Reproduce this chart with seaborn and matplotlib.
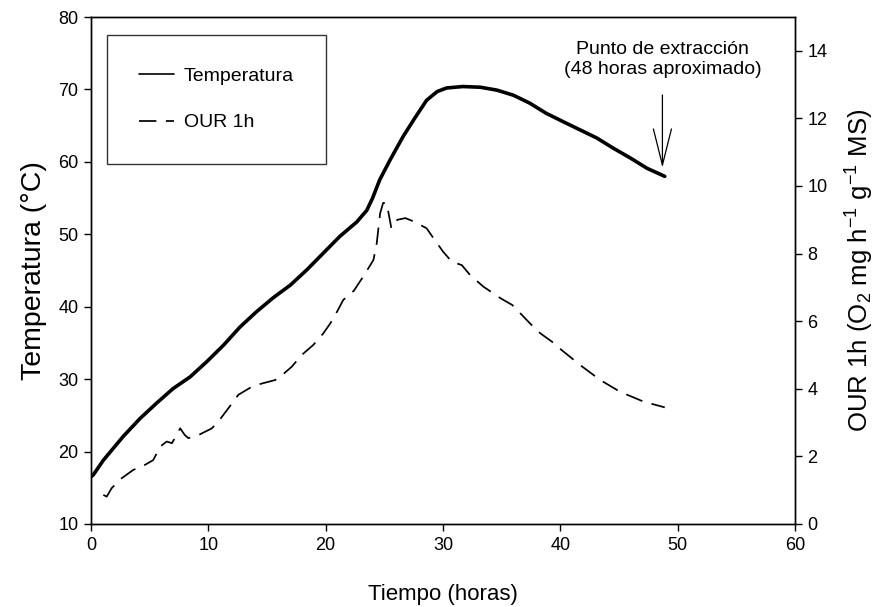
import matplotlib
matplotlib.use("Agg")
import matplotlib.pyplot as plt
import seaborn as sns
import pandas as pd

# ---- data ----
temp_hours = [0, 0.2, 0.5, 1.05, 2.75, 4.2, 5.6, 7.0, 8.44, 9.86, 11.3, 12.7, 14.1, 15.5,
              17.0, 18.4, 19.8, 21.2, 22.65, 23.5, 24.0, 24.6, 25.5, 26.6, 27.5, 28.6,
              29.5, 30.3, 31.7, 33.2, 34.6, 36.0, 37.4, 38.8, 40.3, 41.7, 43.1, 44.5,
              46.0, 47.4, 48.9]
temp_values = [16.5, 16.8, 17.5, 18.8, 22.1, 24.6, 26.7, 28.7, 30.3, 32.4, 34.7, 37.2,
               39.3, 41.2, 43.0, 45.1, 47.4, 49.7, 51.7, 53.3, 55.0, 57.5, 60.3, 63.5,
               65.8, 68.5, 69.7, 70.2, 70.4, 70.3, 69.9, 69.2, 68.1, 66.7, 65.5, 64.4,
               63.3, 61.9, 60.5, 59.1, 58.0]

our_hours = [1.05, 1.34, 1.76, 2.6, 3.6, 4.6, 5.3, 5.9, 6.45, 6.9, 7.6, 8.0, 8.3, 9.15,
             10.3, 10.85, 11.7, 12.55, 13.7, 14.5, 15.7, 16.3, 17.1, 17.96, 18.95, 19.8,
             20.4, 21.0, 21.5, 22.4, 23.2, 24.07, 24.35, 24.64, 24.9, 25.2, 25.6, 26.1,
             26.8, 27.5, 28.6, 29.2, 30.0, 30.75, 31.6, 32.3, 33.45, 34.9, 35.9, 36.6,
             37.4, 38.3, 39.3, 40.1, 41.7, 43.4, 45.1, 47.1, 48.9]
our_values = [0.86, 0.81, 1.06, 1.35, 1.6, 1.75, 1.89, 2.29, 2.44, 2.39, 2.83, 2.63, 2.54,
              2.63, 2.83, 3.03, 3.42, 3.82, 4.06, 4.15, 4.26, 4.41, 4.65, 5.0, 5.3, 5.64,
              5.94, 6.3, 6.63, 6.9, 7.32, 7.81, 8.3, 9.19, 9.5, 9.49, 8.75, 9.0, 9.05,
              8.95, 8.75, 8.45, 8.06, 7.76, 7.66, 7.37, 7.02, 6.68, 6.48, 6.23, 5.94,
              5.64, 5.39, 5.15, 4.7, 4.26, 3.91, 3.62, 3.45]

x_ticks = [0, 10, 20, 30, 40, 50, 60]
left_ticks = [10, 20, 30, 40, 50, 60, 70, 80]
right_ticks = [0, 2, 4, 6, 8, 10, 12, 14]

label_temp = "Temperatura"
label_our = "OUR 1h"
annot_text = "Punto de extracción\n(48 horas aproximado)"
annot_x, annot_y = 48.7, 59.2

temp_df = pd.DataFrame({"Tiempo": temp_hours, "T": temp_values})
our_df = pd.DataFrame({"Tiempo": our_hours, "OUR": our_values})

# ---- style ----
sns.set_style("ticks")
plt.rcParams["font.family"] = ["Liberation Sans", "DejaVu Sans"]
plt.rcParams["text.color"] = "black"
plt.rcParams["axes.labelcolor"] = "black"
plt.rcParams["xtick.color"] = "black"
plt.rcParams["ytick.color"] = "black"
plt.rcParams["mathtext.fontset"] = "custom"
plt.rcParams["mathtext.rm"] = "Liberation Sans"
plt.rcParams["mathtext.it"] = "Liberation Sans"

fig = plt.figure(figsize=(8.84, 6.07), dpi=100)
ax = fig.add_axes([91 / 884, 1 - 524 / 607, 704 / 884, 507 / 607])
ax2 = ax.twinx()

sns.lineplot(data=temp_df, x="Tiempo", y="T", ax=ax, color="black", lw=2.6,
             label=label_temp, legend=False, estimator=None, sort=False)
sns.lineplot(data=our_df, x="Tiempo", y="OUR", ax=ax2, color="black", lw=1.25,
             label=label_our, legend=False, estimator=None, sort=False)
ax2.lines[0].set_dashes((10, 5.5))

ax.set_xlim(0, 60)
ax.set_ylim(10, 80)
ax2.set_ylim(0, 15)
ax.set_xticks(x_ticks)
ax.set_yticks(left_ticks)
ax2.set_yticks(right_ticks)

for a in (ax, ax2):
    for s in a.spines.values():
        s.set_color("black")
        s.set_linewidth(1.0)
    a.tick_params(direction="out", length=5, width=1, color="black",
                  labelsize=13, labelcolor="black", pad=4)

ax.set_xlabel("Tiempo (horas)", fontsize=16, labelpad=22)
ax.set_ylabel("Temperatura (°C)", fontsize=20.5, labelpad=8)
ax2.set_ylabel(r"OUR 1h (O$_2$ mg h$^{-1}$ g$^{-1}$ MS)", fontsize=18.5, labelpad=12)

# legend
h1 = ax.lines[0]
h2 = ax2.lines[0]
leg = ax.legend([h1, h2], [label_temp, label_our], loc="upper left",
                bbox_to_anchor=(16 / 704, (524 - 35) / 507), borderaxespad=0,
                frameon=True, fancybox=False, edgecolor="black", fontsize=14,
                borderpad=1.65, labelspacing=1.5, handlelength=1.8, handletextpad=0.5)
leg.get_frame().set_linewidth(1.0)
leg.get_lines()[0].set_linewidth(1.2)
leg.set_zorder(5)

# annotation
ax.annotate(annot_text, xy=(annot_x, annot_y), xytext=(annot_x, 71.6),
            ha="center", va="bottom", fontsize=14, linespacing=1.2,
            arrowprops=dict(arrowstyle="->,head_length=2.6,head_width=0.65",
                            color="black", lw=0.9, mutation_scale=10,
                            shrinkA=10, shrinkB=0))

fig.savefig("out.png", dpi=100)
